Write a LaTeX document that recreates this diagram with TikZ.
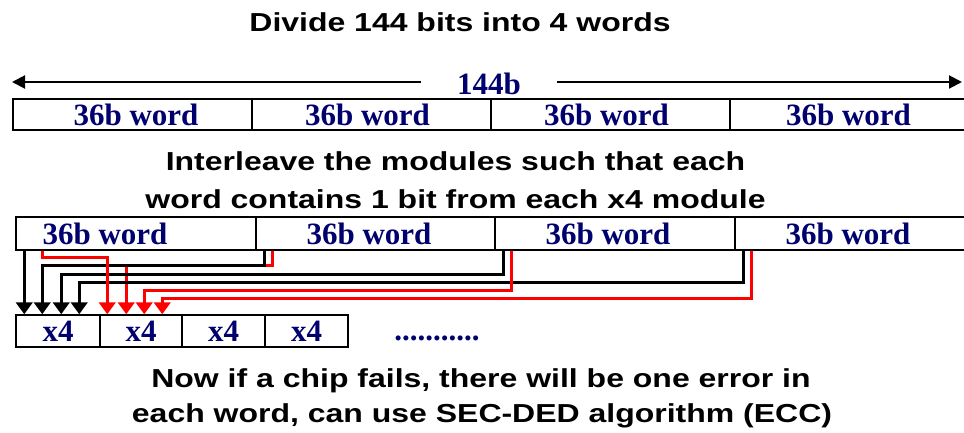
\documentclass[tikz,border=0pt]{standalone}
\usepackage{fontspec}
\usepackage{graphicx}
\setmainfont{Liberation Serif}
\newfontfamily\titlefont{Liberation Sans}
\usetikzlibrary{arrows.meta,calc}
\definecolor{navy}{RGB}{0,0,110}
\definecolor{linered}{RGB}{255,0,0}
\newcommand{\ttlx}[1]{\scalebox{1.23}[1]{#1}}
\begin{document}
\begin{tikzpicture}[x=1pt,y=-1pt,
  ttl/.style={anchor=base, inner sep=0pt, font=\titlefont\bfseries\fontsize{26}{30}\selectfont},
  wordbox/.style={draw, line width=1.5pt, inner sep=0pt, text=navy,
    font=\bfseries\fontsize{31}{34}\selectfont},
  modbox/.style={draw, line width=1.5pt, inner sep=0pt, minimum height=32pt, text=navy,
    font=\bfseries\fontsize{31}{34}\selectfont},
  blk/.style={line width=3.3pt, -{Triangle[width=16.5pt,length=12pt]}},
  redl/.style={line width=3pt, draw=linered, -{Triangle[width=16.5pt,length=12pt]}, color=linered},
  lenarrow/.style={line width=2pt, -{Triangle[width=13pt,length=13pt]}}
]
\useasboundingbox (0,0) rectangle (964,433);

% title
\node[ttl] (t1) at (460,32) {\ttlx{Divide 144 bits into 4 words}};

% 144b length arrow
\coordinate (L) at (12,82);
\coordinate (R) at (962,82);
\node[anchor=base, inner ysep=0pt, inner xsep=36pt, text=navy,
  font=\bfseries\fontsize{31}{34}\selectfont] (len) at (489,95) {144b};
\draw[lenarrow] (len.west |- L) -- (L);
\draw[lenarrow] (len.east |- R) -- (R);

% first row of words
\node[wordbox, minimum width=239pt, minimum height=31pt] (w11) at (132.5,114.5) {\hspace*{7pt}36b word};
\node[wordbox, minimum width=239pt, minimum height=31pt] (w12) at (371.5,114.5) {\hspace*{-8pt}36b word};
\node[wordbox, minimum width=239pt, minimum height=31pt] (w13) at (610.5,114.5) {\hspace*{-8pt}36b word};
\node[wordbox, minimum width=239pt, minimum height=31pt] (w14) at (849.5,114.5) {\hspace*{-2pt}36b word};

% second title
\node[ttl] (t2a) at (455.5,171) {\ttlx{Interleave the modules such that each}};
\node[ttl] (t2b) at (455.5,208) {\ttlx{word contains 1 bit from each x4 module}};

% second row of words
\node[wordbox, minimum width=240pt, minimum height=33pt] (w21) at (136,233.5) {\hspace*{-62pt}36b word};
\node[wordbox, minimum width=239pt, minimum height=33pt] (w22) at (375.5,233.5) {\hspace*{-13pt}36b word};
\node[wordbox, minimum width=240pt, minimum height=33pt] (w23) at (615,233.5) {\hspace*{-14pt}36b word};
\node[wordbox, minimum width=239pt, minimum height=33pt] (w24) at (854.5,233.5) {\hspace*{-13pt}36b word};

% x4 modules
\node[modbox, minimum width=84pt] (m1) at (58,331) {x4};
\node[modbox, minimum width=82pt] (m2) at (141,331) {x4};
\node[modbox, minimum width=83pt] (m3) at (223.5,331) {x4};
\node[modbox, minimum width=83pt] (m4) at (306.5,331) {x4};
\node[anchor=base, inner sep=0pt, text=navy, font=\bfseries\fontsize{31}{34}\selectfont] (dots) at (437,340) {...........};

% connectors
\draw[redl] ($(w22.south west)+(17,0)$) -- ++(0,15) -| ($(m2.north west)+(27,0)$);
\draw[blk] ($(w21.south west)+(9,0)$) -- ($(m1.north west)+(9,0)$);
\draw[blk] ($(w22.south west)+(9,0)$) -- ++(0,15) -| ($(m1.north west)+(27,0)$);
\draw[blk] ($(w23.south west)+(9,0)$) -- ++(0,24) -| ($(m1.north west)+(46,0)$);
\draw[blk] ($(w24.south west)+(9,0)$) -- ++(0,32) -| ($(m1.north west)+(64,0)$);
\draw[redl] ($(w21.south west)+(27,0)$) -- ++(0,7) -| ($(m2.north west)+(8,0)$);
\draw[redl] ($(w23.south west)+(17,0)$) -- ++(0,40) -| ($(m2.north west)+(45,0)$);
\draw[redl] ($(w24.south west)+(17,0)$) -- ++(0,48) -| ($(m2.north west)+(63,0)$);

% bottom text
\node[ttl] (t3a) at (481,387) {\ttlx{Now if a chip fails, there will be one error in}};
\node[ttl] (t3b) at (482,422) {\ttlx{each word, can use SEC-DED algorithm (ECC)}};
\end{tikzpicture}
\end{document}
